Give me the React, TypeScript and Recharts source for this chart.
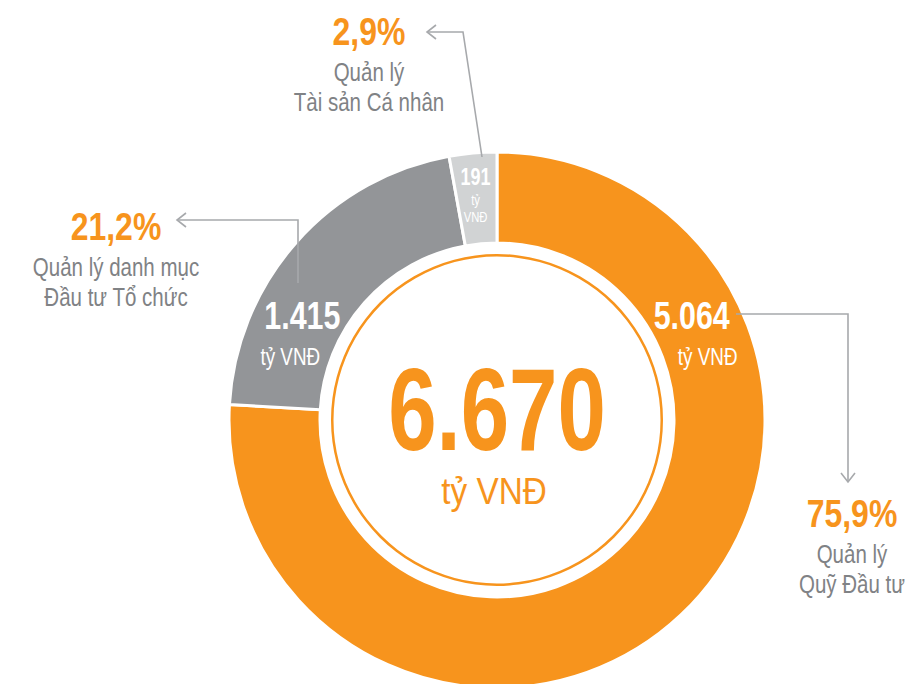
import React from 'react';
import { PieChart, Pie, Cell } from 'recharts';

// Cơ cấu tài sản quản lý (tỷ VNĐ)
const CATEGORIES = ['Quản lý Quỹ Đầu tư', 'Quản lý danh mục Đầu tư Tổ chức', 'Quản lý Tài sản Cá nhân'];
const VALUES = [5064, 1415, 191];
const VALUE_LABELS = ['5.064', '1.415', '191'];
const SHARE_LABELS = ['75,9%', '21,2%', '2,9%'];
const TOTAL_LABEL = '6.670';
const UNIT = 'tỷ VNĐ';

const COLORS = ['#F7941D', '#939598', '#D1D3D4'];
const ORANGE = '#F7941D';
const TEXT_GRAY = '#808285';
const LINE_GRAY = '#A7A9AC';
// no condensed face installed, so Liberation Sans gets squeezed horizontally
const FONT = "'Liberation Sans', Arial, sans-serif";
const SQUEEZE = 0.82;

const W = 906;
const H = 684;
const CX = 497;
const CY = 420;
const INNER = 177;
const OUTER = 268;

const data = CATEGORIES.map((name, i) => ({ name, value: VALUES[i] }));
const total = VALUES.reduce((a, b) => a + b, 0);
const ring = [{ name: 'total', value: total }];

// polar angle (deg) for each in-slice value label; null = use slice mid angle
const LABEL_ANGLE: (number | null)[] = [28, 152, null];

type CTextProps = {
  x: number;
  y: number;
  size: number;
  fill: string;
  bold?: boolean;
  sx?: number;
  children: React.ReactNode;
};

// condensed text: anchored middle at (x, y baseline)
const CText = ({ x, y, size, fill, bold, sx = SQUEEZE, children }: CTextProps) => (
  <text
    transform={`translate(${x},${y}) scale(${sx},1)`}
    textAnchor="middle"
    fontFamily={FONT}
    fontSize={size}
    fontWeight={bold ? 700 : 400}
    fill={fill}
  >
    {children}
  </text>
);

const renderValueLabel = (props: any) => {
  const { cx, cy, midAngle, innerRadius, outerRadius, index } = props;
  const angle = LABEL_ANGLE[index] ?? midAngle;
  const rad = (angle * Math.PI) / 180;
  if (index === 2) {
    const r = outerRadius - 30;
    const x = cx + r * Math.cos(rad);
    const y = cy - r * Math.sin(rad);
    return (
      <g>
        <CText x={x} y={y + 2} size={24} bold fill="#fff" sx={0.75}>{VALUE_LABELS[index]}</CText>
        <CText x={x} y={y + 22} size={15} fill="#fff" sx={0.75}>tỷ</CText>
        <CText x={x} y={y + 39} size={15} fill="#fff" sx={0.75}>VNĐ</CText>
      </g>
    );
  }
  const r = (innerRadius + outerRadius) / 2 - 2;
  const x = cx + r * Math.cos(rad);
  const y = cy - r * Math.sin(rad);
  const subDx = index === 0 ? 16 : -12;
  return (
    <g>
      <CText x={x} y={y + 13} size={38} bold fill="#fff" sx={0.8}>{VALUE_LABELS[index]}</CText>
      <CText x={x + subDx} y={y + 49} size={23} fill="#fff">{UNIT}</CText>
    </g>
  );
};

const Callout = ({ x, y, share, lines }: { x: number; y: number; share: string; lines: string[] }) => (
  <g>
    <CText x={x} y={y} size={39} bold fill={ORANGE}>{share}</CText>
    {lines.map((l, i) => (
      <CText key={i} x={x} y={y + 36 + i * 30} size={25} fill={TEXT_GRAY}>{l}</CText>
    ))}
  </g>
);

export default function App() {
  return (
    <div style={{ position: 'absolute', left: 0, top: 0, width: W, height: H, overflow: 'hidden', background: '#fff' }}>
      <PieChart width={W} height={H} margin={{ top: 0, right: 0, bottom: 0, left: 0 }}>
        <Pie
          data={data}
          dataKey="value"
          cx={CX}
          cy={CY}
          innerRadius={INNER}
          outerRadius={OUTER}
          startAngle={90}
          endAngle={-270}
          stroke="#fff"
          strokeWidth={3}
          label={renderValueLabel}
          labelLine={false}
          isAnimationActive={false}
        >
          {data.map((d, i) => (
            <Cell key={d.name} fill={COLORS[i]} />
          ))}
        </Pie>
        <Pie
          data={ring}
          dataKey="value"
          cx={CX}
          cy={CY}
          innerRadius={163.5}
          outerRadius={166}
          startAngle={90}
          endAngle={-270}
          fill={ORANGE}
          stroke="none"
          isAnimationActive={false}
        />
      </PieChart>
      <svg width={W} height={H} style={{ position: 'absolute', left: 0, top: 0, pointerEvents: 'none' }}>
        {/* center total */}
        <CText x={CX} y={450} size={116} bold fill={ORANGE} sx={0.75}>{TOTAL_LABEL}</CText>
        <CText x={CX - 3} y={504} size={37} fill={ORANGE} sx={0.9}>{UNIT}</CText>

        {/* leader lines */}
        <g stroke={LINE_GRAY} strokeWidth={1.6} fill="none">
          <polyline points="482,157 463,32 427,32" />
          <polyline points="436,25 427,32 436,39" />
          <polyline points="298,283 298,220 177,220" />
          <polyline points="186,213 177,220 186,227" />
          <polyline points="736,314 848,314 848,482" />
          <polyline points="841,473 848,482 855,473" />
        </g>

        <Callout x={369} y={45} share={SHARE_LABELS[2]} lines={['Quản lý', 'Tài sản Cá nhân']} />
        <Callout x={116} y={240} share={SHARE_LABELS[1]} lines={['Quản lý danh mục', 'Đầu tư Tổ chức']} />
        <Callout x={852} y={527} share={SHARE_LABELS[0]} lines={['Quản lý', 'Quỹ Đầu tư']} />
      </svg>
    </div>
  );
}
